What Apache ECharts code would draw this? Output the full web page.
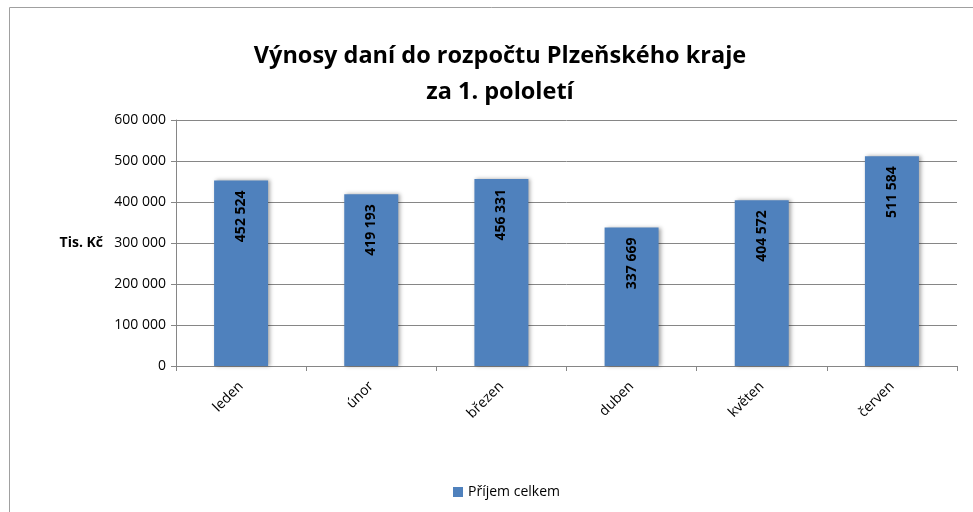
<!DOCTYPE html>
<html>
<head>
<meta charset="utf-8">
<script src="https://cdn.jsdelivr.net/npm/echarts@6/dist/echarts.min.js"></script>
<style>
  html, body { margin: 0; padding: 0; background: #fff; }
  #chart { width: 973px; height: 512px; }
</style>
</head>
<body>
<div id="chart"></div>
<script>
// data
const months = ['leden', 'únor', 'březen', 'duben', 'květen', 'červen']
const prijem = [452524, 419193, 456331, 337669, 404572, 511584]
const yTicks = [0, 100000, 200000, 300000, 400000, 500000, 600000]

const FONT = '"Open Sans", sans-serif'

// format 452524 -> "452 524"
const fmt = (v) => String(v).replace(/\B(?=(\d{3})+(?!\d))/g, ' ')

const chart = echarts.init(document.getElementById('chart'))

const options = {
  animation: false,
  textStyle: { fontFamily: FONT },
  // rámeček grafu
  graphic: [{
    type: 'rect',
    shape: { x: 9.5, y: 7.5, width: 1000, height: 600 },
    style: { fill: 'none', stroke: '#a0a0a0', lineWidth: 1 },
    silent: true
  }],
  title: {
    text: 'Výnosy daní do rozpočtu Plzeňského kraje\nza 1. pololetí',
    left: 495,
    textAlign: 'center',
    top: 33,
    textStyle: {
      fontFamily: FONT,
      fontSize: 23.5,
      fontWeight: 'bold',
      color: '#000',
      lineHeight: 36
    }
  },
  legend: {
    bottom: 8,
    left: 448,
    itemWidth: 10,
    itemHeight: 10,
    itemGap: 4,
    icon: 'rect',
    data: ['Příjem celkem'],
    textStyle: { fontFamily: FONT, fontSize: 14, color: '#000' }
  },
  grid: {
    left: 176,
    right: 16,
    top: 120,
    bottom: 146
  },
  xAxis: {
    type: 'category',
    data: months,
    axisLine: { lineStyle: { color: '#868686' } },
    axisTick: { show: true, alignWithLabel: false, length: 5, lineStyle: { color: '#868686' } },
    axisLabel: {
      rotate: 45,
      margin: 18,
      fontFamily: FONT,
      fontSize: 14,
      color: '#000'
    }
  },
  yAxis: {
    type: 'value',
    min: yTicks[0],
    max: yTicks[yTicks.length - 1],
    interval: yTicks[1] - yTicks[0],
    name: 'Tis. Kč',
    nameLocation: 'middle',
    nameRotate: 0,
    nameGap: 73,
    nameTextStyle: { fontFamily: FONT, fontSize: 14, fontWeight: 'bold', color: '#000', align: 'right' },
    axisLine: { show: true, lineStyle: { color: '#868686' } },
    axisTick: { show: true, length: 5, lineStyle: { color: '#868686' } },
    splitLine: { lineStyle: { color: '#868686' } },
    axisLabel: {
      margin: 10,
      fontFamily: FONT,
      fontSize: 14,
      color: '#000',
      formatter: (v) => fmt(v)
    }
  },
  series: [{
    name: 'Příjem celkem',
    type: 'bar',
    barWidth: 54,
    data: prijem,
    itemStyle: {
      color: '#4f81bd',
      shadowColor: 'rgba(0,0,0,0.35)',
      shadowBlur: 4,
      shadowOffsetX: 2,
      shadowOffsetY: 0
    },
    label: {
      show: true,
      position: 'insideTop',
      distance: 10,
      rotate: 90,
      align: 'right',
      verticalAlign: 'middle',
      fontFamily: FONT,
      fontSize: 14,
      fontWeight: 'bold',
      color: '#000',
      formatter: (p) => fmt(p.value)
    }
  }]
}

chart.setOption(options)
</script>
</body>
</html>
